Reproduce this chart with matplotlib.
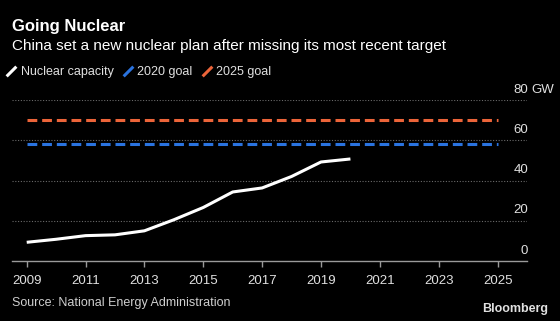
import matplotlib
matplotlib.use('Agg')
import matplotlib.pyplot as plt
from matplotlib.lines import Line2D
from matplotlib.transforms import blended_transform_factory

years = [2009, 2010, 2011, 2012, 2013, 2014, 2015, 2016, 2017, 2018, 2019, 2020]
capacity = [9.3, 10.8, 12.6, 13.0, 15.0, 20.5, 26.6, 34.3, 36.3, 42.0, 49.2, 50.7]
goal_years = [2009, 2025]
goal_2020 = [58.3, 58.3]
goal_2025 = [70.3, 70.3]
xticks = list(range(2009, 2026, 2))
yticks = [0, 20, 40, 60, 80]

plt.rcParams['font.family'] = ['Liberation Sans', 'DejaVu Sans']

BG = 'black'
WHITE = '#ffffff'
BLUE = '#2a73df'
ORANGE = '#ec6439'
GREY = '#9a9a9a'
TXT = '#e0e0e0'

fig = plt.figure(figsize=(5.6, 3.21), dpi=100, facecolor=BG)
ax = fig.add_axes([12 / 560, 1 - 261 / 321, (527 - 12) / 560, 161 / 321])
ax.set_facecolor(BG)

ax.plot(goal_years, goal_2025, color=ORANGE, lw=2.2, dashes=(3.2, 1.6))
ax.plot(goal_years, goal_2020, color=BLUE, lw=2.2, dashes=(3.2, 1.6))
ax.plot(years, capacity, color=WHITE, lw=2.2, solid_capstyle='butt')

ax.set_xlim(2008.5, 2026.0)
ax.set_ylim(0, 80)

# dotted gridlines
for y in yticks[1:]:
    ax.axhline(y, color='#6a6a6a', lw=0.8, ls=(0, (1, 1.5)), zorder=0)

for s in ['top', 'right', 'left']:
    ax.spines[s].set_visible(False)
ax.spines['bottom'].set_color(GREY)
ax.spines['bottom'].set_linewidth(1)

ax.set_xticks(xticks)
ax.set_xticklabels([str(x) for x in xticks])
ax.tick_params(axis='x', colors=GREY, labelcolor=TXT, length=4, width=1,
               labelsize=9.5, pad=6)
ax.set_yticks([])

# right-side y labels sitting above gridlines
trans = blended_transform_factory(fig.transFigure, ax.transData)
for y in yticks:
    ax.text(528 / 560, y + 2.2, str(y), transform=trans, ha='right', va='bottom',
            color=TXT, fontsize=9.5)
ax.text(531 / 560, 80 + 2.2, 'GW', transform=trans, ha='left', va='bottom',
        color=TXT, fontsize=9.5)

# titles
fig.text(12 / 560, 1 - 27 / 321, 'Going Nuclear', color=WHITE, fontsize=12,
         fontweight='bold', ha='left', va='center')
fig.text(12 / 560, 1 - 46 / 321,
         'China set a new nuclear plan after missing its most recent target',
         color=WHITE, fontsize=11, ha='left', va='center')

# legend with slash markers
slash = [(-1, -1), (1, 1)]
handles = [Line2D([], [], color=c, marker=slash, ls='None', markersize=7,
                  markeredgewidth=2.2) for c in [WHITE, BLUE, ORANGE]]
fig.legend(handles, ['Nuclear capacity', '2020 goal', '2025 goal'],
           loc='center left', bbox_to_anchor=(7 / 560, 1 - 72 / 321), ncol=3,
           frameon=False, fontsize=9, handlelength=0.7, handletextpad=0.4,
           columnspacing=0.8, labelcolor=TXT, borderaxespad=0, borderpad=0)

fig.text(12 / 560, 1 - 303 / 321, 'Source: National Energy Administration',
         color='#cfcfcf', fontsize=9, ha='left', va='center')
fig.text(548 / 560, 1 - 309 / 321, 'Bloomberg', color=TXT, fontsize=9,
         fontweight='bold', ha='right', va='center')

fig.savefig('out.png', dpi=100, facecolor=BG)
